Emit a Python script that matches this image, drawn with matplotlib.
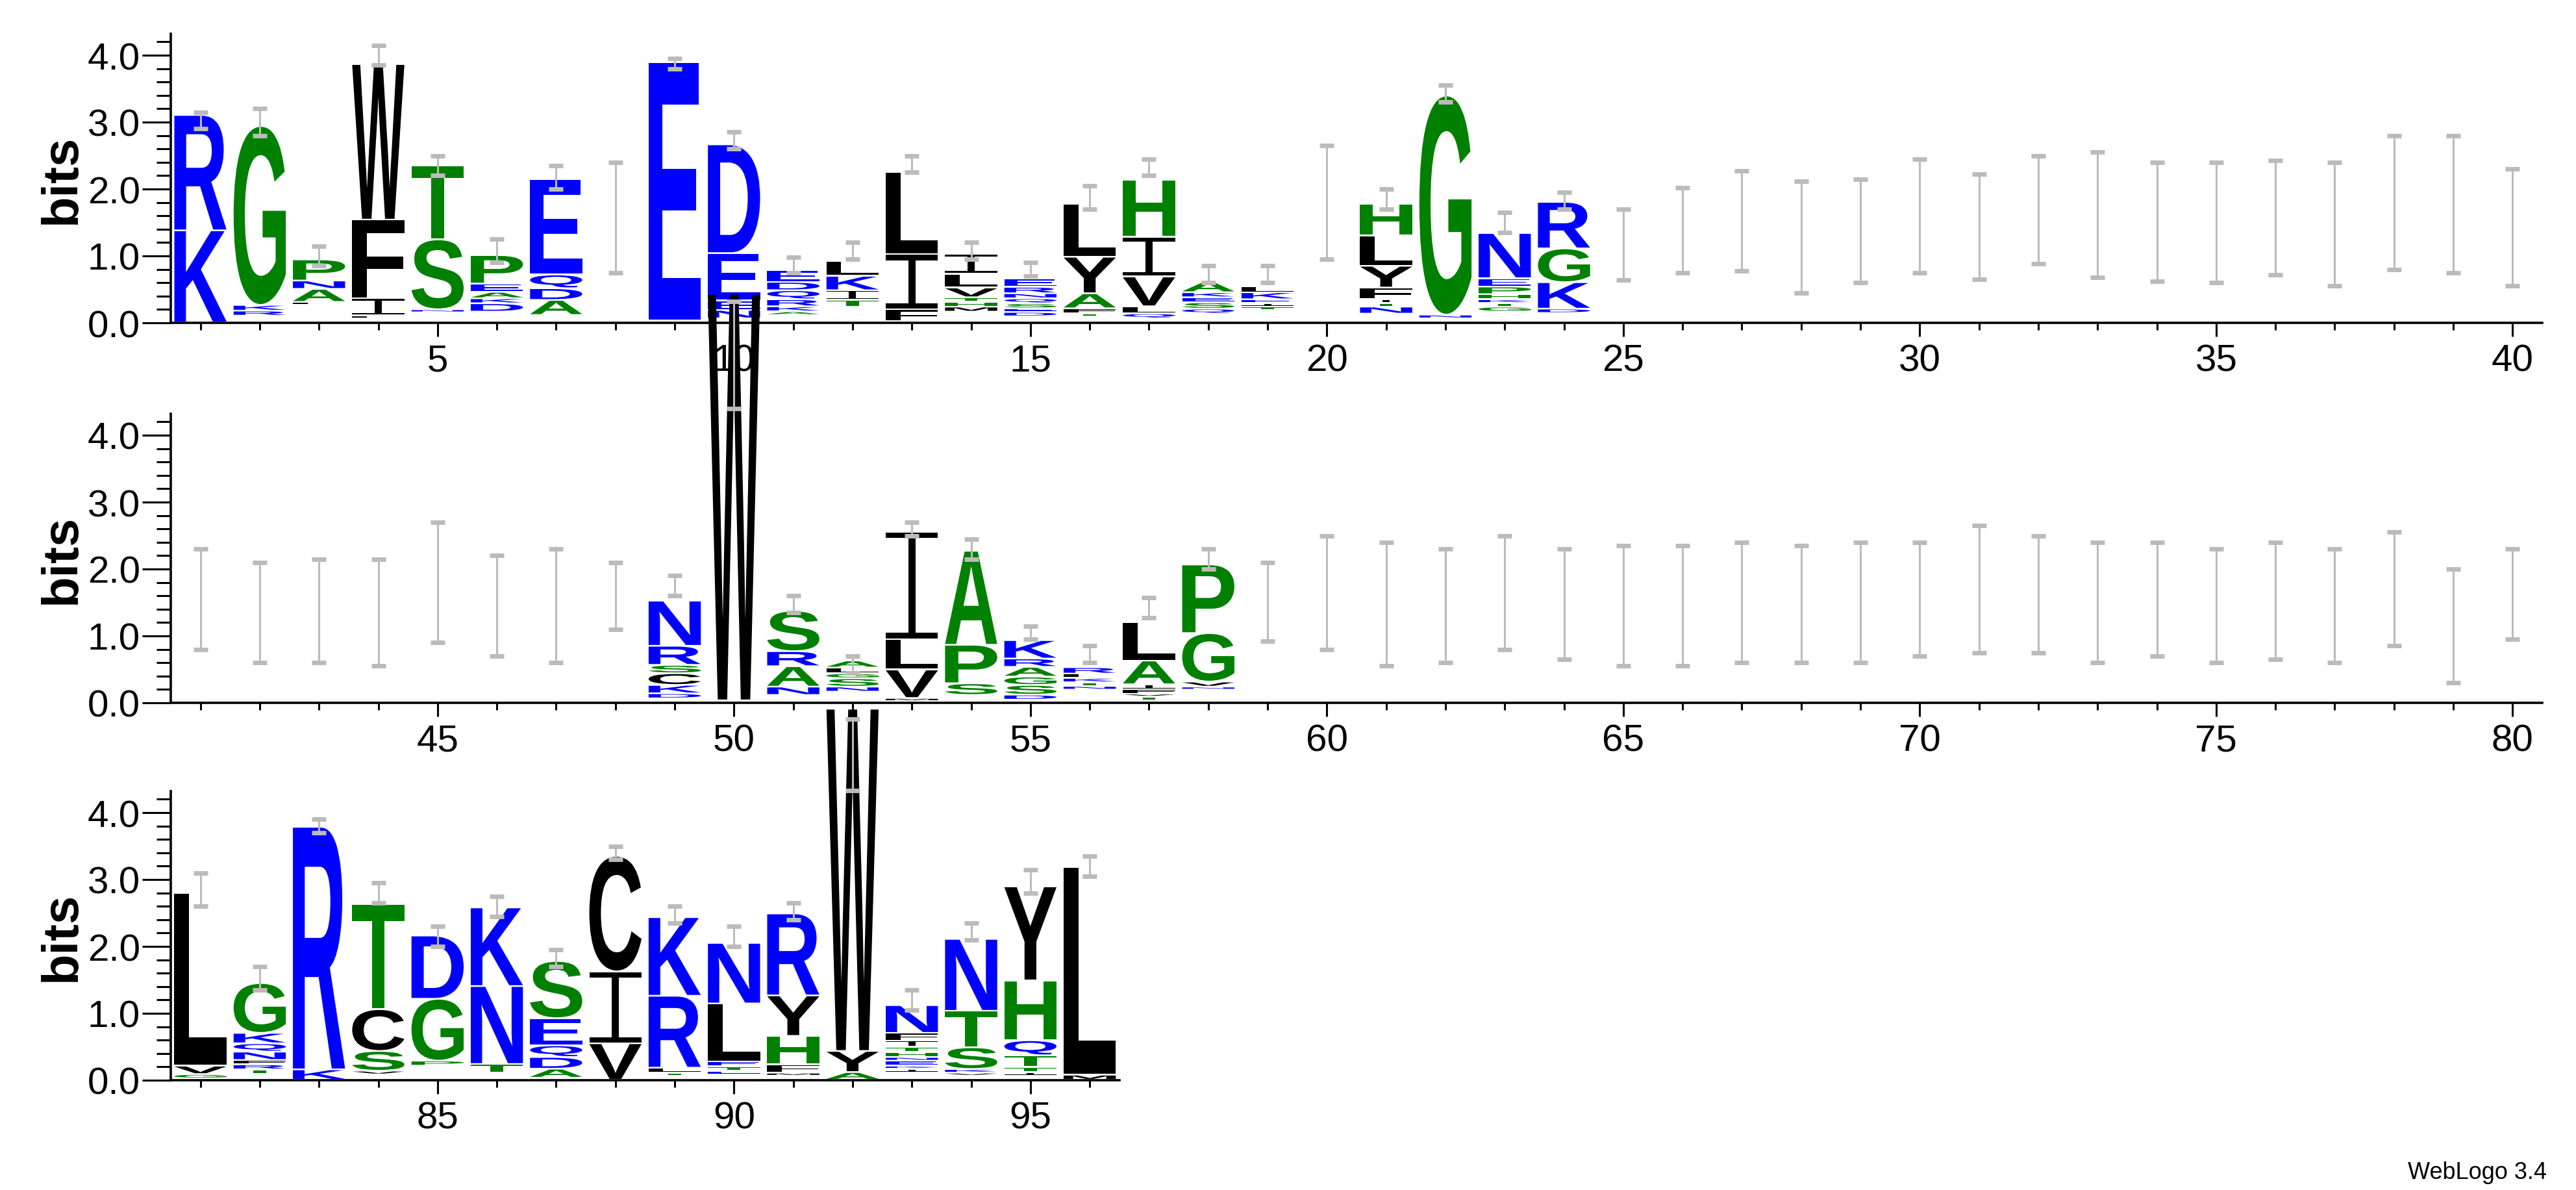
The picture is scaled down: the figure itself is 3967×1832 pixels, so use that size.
# Sequence logo (WebLogo style) in matplotlib
import matplotlib
matplotlib.use('Agg')
import matplotlib.pyplot as plt
from matplotlib.textpath import TextPath
from matplotlib.patches import PathPatch, Rectangle
from matplotlib.font_manager import FontProperties
from matplotlib.transforms import Affine2D
from matplotlib.ticker import MultipleLocator

# ---- data: letter stacks (bottom -> top), heights in bits ----
positions = [1, 2, 3, 4, 5, 6, 7, 9, 10, 11, 12, 13, 14, 15, 16, 17, 18, 19, 21, 22, 23, 24,
             49, 50, 51, 52, 53, 54, 55, 56, 57, 58,
             81, 82, 83, 84, 85, 86, 87, 88, 89, 90, 91, 92, 93, 94, 95, 96]
stack_base = [0.02, 0.12, 0.28, 0.08, 0.17, 0.18, 0.13, 0.05, 0.08, 0.13, 0.25, 0.04, 0.18, 0.11,
              0.11, 0.08, 0.15, 0.2, 0.15, 0.08, 0.18, 0.16,
              0.08, 0.05, 0.13, 0.18, 0.04, 0.13, 0.06, 0.21, 0.05, 0.21,
              0.04, 0.11, 0.02, 0.1, 0.23, 0.13, 0.05, 0.02, 0.08, 0.1, 0.08, 0.02, 0.13, 0.08,
              0.08, 0.02]
stack_letters = ['KR', 'RKG', 'LANP', 'FIFW', 'NST', 'DKAEP', 'ADQE', 'E', 'NEED', 'AKRQDE',
                 'TIKL', 'FIL', 'MHTVLI', 'DESQNRE', 'TFAYL', 'QLVIH', 'QSEKA', 'TIEKL',
                 'NTIFYLH', 'NG', 'GTKHPEN', 'DKGR',
                 'DKCSRN', 'W', 'NARS', 'NSGLA', 'MVLI', 'SPA', 'DSGARK', 'NTKLR', 'TVFIAL', 'NVGP',
                 'GVL', 'TRFNQKG', 'KR', 'VSCT', 'PGD', 'TNK', 'ADQES', 'VIC', 'TLRK', 'ETELN',
                 'MFHYR', 'AYW', 'IKENHTIFN', 'VKSTN', 'ITTQHY', 'ML']
stack_heights = [
    [1.35, 1.7], [0.05, 0.06, 2.65], [0.02, 0.17, 0.1, 0.29], [0.02, 0.23, 1.15, 2.3],
    [0.02, 1.02, 1.08], [0.1, 0.05, 0.07, 0.1, 0.4], [0.2, 0.15, 0.18, 1.4], [3.83],
    [0.1, 0.12, 0.68, 1.6], [0.03, 0.05, 0.08, 0.11, 0.1, 0.15], [0.08, 0.12, 0.19, 0.2],
    [0.15, 0.8, 1.2], [0.05, 0.05, 0.04, 0.12, 0.18, 0.27], [0.04, 0.03, 0.05, 0.05, 0.05, 0.07, 0.1],
    [0.02, 0.05, 0.2, 0.52, 0.77], [0.05, 0.08, 0.42, 0.57, 0.83], [0.05, 0.07, 0.05, 0.05, 0.13],
    [0.03, 0.03, 0.03, 0.08, 0.06], [0.08, 0.03, 0.03, 0.15, 0.3, 0.43, 0.45], [0.03, 3.25],
    [0.05, 0.03, 0.03, 0.05, 0.09, 0.1, 0.65], [0.04, 0.37, 0.48, 0.67],
    [0.05, 0.1, 0.15, 0.1, 0.26, 0.65], [6.05], [0.1, 0.28, 0.2, 0.58], [0.05, 0.1, 0.05, 0.06, 0.08],
    [0.02, 0.4, 0.43, 1.58], [0.15, 0.55, 1.38], [0.05, 0.12, 0.1, 0.12, 0.1, 0.25],
    [0.03, 0.03, 0.04, 0.04, 0.07], [0.03, 0.02, 0.04, 0.05, 0.33, 0.55], [0.02, 0.05, 0.7, 1.0],
    [0.04, 0.1, 2.56], [0.04, 0.05, 0.04, 0.1, 0.1, 0.13, 0.72], [0.13, 3.6], [0.03, 0.27, 0.6, 1.55],
    [0.05, 0.9, 0.92], [0.1, 1.14, 1.15], [0.11, 0.15, 0.15, 0.38, 0.83], [0.52, 1.05, 1.7],
    [0.02, 0.05, 1.05, 1.15], [0.03, 0.04, 0.05, 0.84, 0.88], [0.02, 0.1, 0.4, 0.58, 1.2],
    [0.09, 0.29, 5.09], [0.03, 0.02, 0.05, 0.03, 0.05, 0.05, 0.07, 0.09, 0.39],
    [0.02, 0.03, 0.3, 0.52, 1.05], [0.03, 0.05, 0.15, 0.2, 0.87, 1.38], [0.05, 3.08],
]

# error bars (low, high) in bits, for every position shown
err_positions = list(range(1, 41)) + list(range(41, 81)) + list(range(81, 97))
err_lo = [2.9, 2.8, 0.85, 3.85, 2.2, 0.9, 2.0, 0.75, 3.8, 2.6, 0.75, 0.95, 2.25, 0.95, 0.7, 1.7,
          2.2, 0.6, 0.6, 0.95, 1.7, 3.3, 1.35, 1.7, 0.64, 0.75, 0.78, 0.45, 0.6, 0.75, 0.65, 0.88,
          0.68, 0.62, 0.6, 0.72, 0.55, 0.8, 0.75, 0.55,
          0.8, 0.6, 0.6, 0.55, 0.9, 0.7, 0.6, 1.1, 1.6, 4.4, 1.35, 0.45, 2.5, 2.15, 0.95, 0.6,
          1.27, 2.0, 0.92, 0.8, 0.55, 0.6, 0.8, 0.65, 0.55, 0.55, 0.6, 0.6, 0.6, 0.7, 0.75, 0.75,
          0.6, 0.7, 0.6, 0.65, 0.6, 0.85, 0.3, 0.95,
          2.6, 1.35, 3.7, 2.65, 2.0, 2.45, 1.7, 3.3, 2.35, 2.0, 2.4, 4.33, 1.05, 2.1, 2.8, 3.05]
err_hi = [3.15, 3.2, 1.15, 4.15, 2.5, 1.25, 2.35, 2.4, 3.95, 2.85, 0.98, 1.2, 2.5, 1.2, 0.9, 2.05,
          2.45, 0.85, 0.85, 2.65, 2.0, 3.55, 1.65, 1.95, 1.7, 2.02, 2.27, 2.12, 2.15, 2.45, 2.22, 2.5,
          2.55, 2.4, 2.4, 2.43, 2.4, 2.8, 2.8, 2.3,
          2.3, 2.1, 2.15, 2.15, 2.7, 2.2, 2.3, 2.1, 1.9, 6.0, 1.6, 0.7, 2.7, 2.45, 1.15, 0.85,
          1.57, 2.3, 2.1, 2.5, 2.4, 2.3, 2.5, 2.3, 2.35, 2.35, 2.4, 2.35, 2.4, 2.4, 2.65, 2.5,
          2.4, 2.4, 2.3, 2.4, 2.3, 2.55, 2.0, 2.3,
          3.1, 1.7, 3.9, 2.95, 2.3, 2.75, 1.95, 3.5, 2.6, 2.3, 2.65, 5.4, 1.35, 2.35, 3.15, 3.35]

row_ranges = [(1, 40), (41, 80), (81, 96)]

# ---- style ----
BLUE, GREEN, BLACK = '#0000FF', '#008000', '#000000'
colors = {}
for c in 'RKDENQ':
    colors[c] = BLUE
for c in 'GSTHAP':
    colors[c] = GREEN
for c in 'WFLIVYCM':
    colors[c] = BLACK

font = FontProperties(family=['Liberation Sans', 'DejaVu Sans'], weight='bold')
tick_font = ['Liberation Sans Narrow', 'Liberation Sans', 'DejaVu Sans']
STACK_W = 0.88
PAD = 0.025

glyph_cache = {}
def glyph(ch):
    if ch not in glyph_cache:
        p = TextPath((0, 0), ch, size=100, prop=font)
        ext = p.get_extents()
        glyph_cache[ch] = (p, ext)
    return glyph_cache[ch]

def draw_letter(ax, ch, x, y0, h):
    if ch == 'I':
        # WebLogo's I: thin stem with full-width bars
        bar = min(0.1 * h, 0.08)
        kw = dict(facecolor=colors[ch], edgecolor='none', clip_on=False, zorder=3)
        ax.add_patch(Rectangle((x - STACK_W / 2, y0), STACK_W, bar, **kw))
        ax.add_patch(Rectangle((x - STACK_W / 2, y0 + h - bar), STACK_W, bar, **kw))
        ax.add_patch(Rectangle((x - 0.06, y0), 0.12, h, **kw))
        return
    p, ext = glyph(ch)
    t = (Affine2D().translate(-ext.x0, -ext.y0)
         .scale(STACK_W / ext.width, h / ext.height)
         .translate(x - STACK_W / 2, y0))
    patch = PathPatch(t.transform_path(p), facecolor=colors[ch], edgecolor='none',
                      transform=ax.transData, clip_on=False, zorder=3)
    ax.add_patch(patch)

W, H = 3967, 1833
fig = plt.figure(figsize=(W / 100, H / 100), dpi=100)
left = 263 / W
px_per_pos = (3915 - 263) / 40
bottoms = [1833 - 498, 1833 - 1083, 1833 - 1664]
ax_h = 4.32 * 103 / H

axes = []
for r, (a, b) in enumerate(row_ranges):
    npos = b - a + 1
    ax = fig.add_axes([left, bottoms[r] / H, npos * px_per_pos / W, ax_h])
    ax.set_xlim(a - 0.5, b + 0.5)
    ax.set_ylim(0, 4.32)
    ax.patch.set_alpha(0)
    for s in ['top', 'right']:
        ax.spines[s].set_visible(False)
    for s in ['left', 'bottom']:
        ax.spines[s].set_linewidth(2.6)
    ax.xaxis.set_major_locator(MultipleLocator(5))
    ax.xaxis.set_minor_locator(MultipleLocator(1))
    ax.yaxis.set_major_locator(MultipleLocator(1))
    ax.yaxis.set_minor_locator(MultipleLocator(0.2))
    ax.set_yticks([0, 1, 2, 3, 4])
    ax.set_yticklabels(['0.0', '1.0', '2.0', '3.0', '4.0'])
    ax.tick_params(axis='x', which='major', length=15, width=2.2, labelsize=42, pad=8)
    ax.tick_params(axis='x', which='minor', length=8, width=2.2)
    ax.tick_params(axis='y', which='major', length=32, width=2.2, labelsize=42, pad=2)
    ax.tick_params(axis='y', which='minor', length=16, width=2.2)
    for lab in ax.get_xticklabels() + ax.get_yticklabels():
        lab.set_family(tick_font)
    ax.set_ylabel('bits', fontsize=56, fontweight='bold', family=['Liberation Sans', 'DejaVu Sans'],
                  labelpad=2)
    axes.append(ax)

def row_of(pos):
    for r, (a, b) in enumerate(row_ranges):
        if a <= pos <= b:
            return r
    return 0

# letters
for pos, base, letters, heights in zip(positions, stack_base, stack_letters, stack_heights):
    ax = axes[row_of(pos)]
    y = base
    for ch, h in zip(letters, heights):
        draw_letter(ax, ch, pos, y, h)
        y += h + PAD

# error bars
for pos, lo, hi in zip(err_positions, err_lo, err_hi):
    ax = axes[row_of(pos)]
    ax.plot([pos, pos], [lo, hi], color='#BBBBBB', lw=2.2, clip_on=False, zorder=4,
            solid_capstyle='butt')
    for yy in (lo, hi):
        ax.plot([pos - 0.12, pos + 0.12], [yy, yy], color='#BBBBBB', lw=5,
                clip_on=False, zorder=4, solid_capstyle='butt')

fig.text(3922 / W, 10 / H, 'WebLogo 3.4', ha='right', va='bottom', fontsize=26,
         family=['Liberation Sans', 'DejaVu Sans'])

fig.savefig('out.png', dpi=100)
